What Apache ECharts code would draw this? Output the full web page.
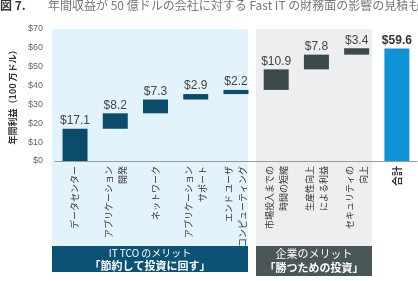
<!DOCTYPE html>
<html><head><meta charset="utf-8">
<script src="https://cdn.jsdelivr.net/npm/echarts@6/dist/echarts.min.js"></script>
<style>html,body{margin:0;padding:0;background:#fff}#c{width:418px;height:281px}</style>
</head><body><div id="c"></div>
<script>
const categories = ['データセンター','アプリケーション\n開発','ネットワーク','アプリケーション\nサポート','エンド ユーザ\nコンピューティング','市場投入までの\n時間の短縮','生産性向上\nによる利益','セキュリティの\n向上','合計'];
const itValues = [17.1, 8.2, 7.3, 2.9, 2.2];
const bizValues = [10.9, 7.8, 3.4];
const totalValue = 59.6;
const yTicks = [0,10,20,30,40,50,60,70];

const steps = itValues.concat(bizValues);
const base = [];
let cum = 0;
steps.forEach((v)=>{ base.push(cum); cum += v; });
base.push(0);
const data = [];
steps.forEach((v,i)=>{ data.push({value:v, itemStyle:{color: i < itValues.length ? '#0b4c6c' : '#3d4848'}}); });
data.push({value: totalValue, itemStyle:{color:'#0f93d6'}, label:{fontWeight:'bold', color:'#333'}});

// pad shorter lines at the start so every line ends at the axis
const ctx = document.createElement('canvas').getContext('2d');
ctx.font = '9px "Noto Sans CJK JP"';
function padLabel(v){
  const lines = v.split('\n');
  if (lines.length < 2) return v;
  const w = lines.map(l=>ctx.measureText(l).width);
  const mx = Math.max(...w);
  const sp = ctx.measureText('\u3000').width;
  return lines.map((l,i)=>'\u3000'.repeat(Math.round((mx-w[i])/sp)) + l).join('\n');
}

const chart = echarts.init(document.getElementById('c'));
chart.setOption({
  animation:false,
  grid:{left:48, right:1, top:29, bottom:120},
  graphic:[
    {type:'rect', shape:{x:52,y:29,width:196,height:217}, style:{fill:'#e2f3fb'}, z:-10},
    {type:'rect', shape:{x:256,y:29,width:116,height:217}, style:{fill:'#edeeef'}, z:-10},
    {type:'rect', shape:{x:52,y:246,width:196,height:26}, style:{fill:'#0b5275'}, z:-10},
    {type:'rect', shape:{x:256,y:246,width:116,height:30}, style:{fill:'#4b5656'}, z:-10},
    {type:'text', x:150, y:253, style:{text:'IT TCO のメリット', fill:'#fff', font:'10px "Noto Sans CJK JP"', textAlign:'center', textVerticalAlign:'middle'}, z:10},
    {type:'text', x:150, y:266, style:{text:'「節約して投資に回す」', fill:'#fff', font:'bold 11px "Noto Sans CJK JP"', textAlign:'center', textVerticalAlign:'middle'}, z:10},
    {type:'text', x:314, y:254, style:{text:'企業のメリット', fill:'#fff', font:'11px "Noto Sans CJK JP"', textAlign:'center', textVerticalAlign:'middle'}, z:10},
    {type:'text', x:314, y:268, style:{text:'「勝つための投資」', fill:'#fff', font:'bold 11px "Noto Sans CJK JP"', textAlign:'center', textVerticalAlign:'middle'}, z:10},
    {type:'text', x:0, y:5, style:{text:'図 7.', fill:'#333', font:'bold 12px "Noto Sans CJK JP"', textAlign:'left', textVerticalAlign:'middle'}, z:10},
    {type:'text', x:48, y:5, style:{text:'年間収益が 50 億ドルの会社に対する Fast IT の財務面の影響の見積も', fill:'#777', font:'12px "Noto Sans CJK JP"', textAlign:'left', textVerticalAlign:'middle'}, z:10}
  ],
  xAxis:{type:'category', data:categories,
    axisLine:{lineStyle:{color:'#9a9a9a'}}, axisTick:{show:false},
    axisLabel:{rotate:90, interval:0, margin:5, fontSize:9, lineHeight:14, color:'#333', fontFamily:'"Noto Sans CJK JP"',
      formatter:(v)=> v==='合計' ? '{b|合計}' : padLabel(v),
      rich:{b:{fontWeight:'bold', fontSize:10, color:'#333'}}}},
  yAxis:{type:'value', min:0, max:70, interval:10,
    name:'年間利益（100 万ドル）', nameLocation:'middle', nameRotate:90, nameGap:36,
    nameTextStyle:{fontSize:9, fontWeight:'bold', color:'#333', fontFamily:'"Noto Sans CJK JP"'},
    axisLine:{show:false}, axisTick:{show:false}, splitLine:{show:false},
    axisLabel:{fontSize:9, color:'#666', margin:12, fontFamily:'"Liberation Sans Narrow","Liberation Sans",sans-serif',
      formatter:(v)=> yTicks.includes(v) ? '$'+v : ''}},
  series:[
    {type:'bar', stack:'w', data:base, itemStyle:{color:'transparent'}, barWidth:25, silent:true},
    {type:'bar', stack:'w', data:data, barWidth:25,
      label:{show:true, position:'top', distance:2, fontSize:12, color:'#444', fontFamily:'"Liberation Sans Narrow","Liberation Sans",sans-serif',
        formatter:(p)=> '$'+p.value.toFixed(1)}}
  ]
});
</script></body></html>
